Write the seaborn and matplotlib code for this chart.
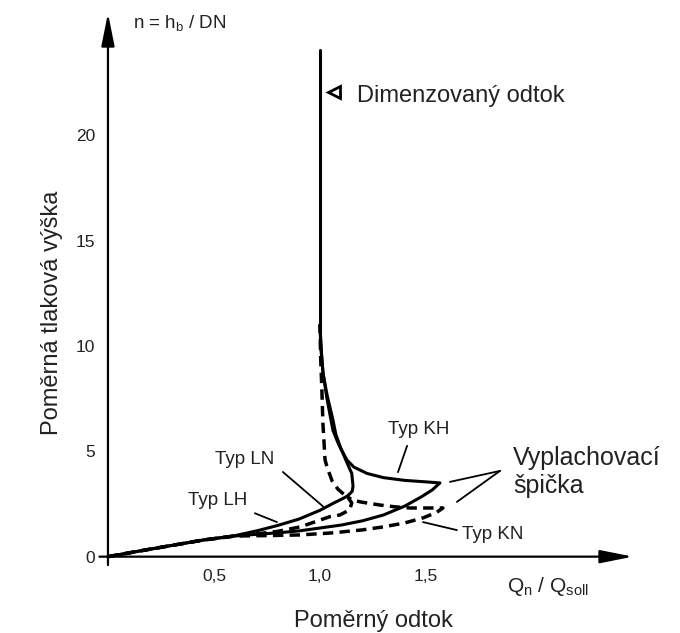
import matplotlib
matplotlib.use("Agg")
import matplotlib.pyplot as plt
import seaborn as sns
import pandas as pd

# ---------------- data ----------------
trunk_x = [1.0, 1.0]
trunk_y = [24.05, 10.0]

lh_x = [0.0, 0.15, 0.30, 0.45, 0.60, 0.70, 0.80, 0.90, 1.00, 1.06, 1.10, 1.13, 1.152, 1.156, 1.15, 1.13, 1.108, 1.085, 1.061, 1.033, 1.015, 1.005, 1.0]
lh_y = [0.0, 0.27, 0.53, 0.79, 1.00, 1.22, 1.48, 1.78, 2.20, 2.52, 2.72, 2.88, 3.10, 3.35, 3.95, 4.40, 4.92, 5.40, 6.00, 7.50, 8.70, 9.80, 11.0]

kh_x = [0.0, 0.15, 0.30, 0.45, 0.60, 0.70, 0.80, 0.90, 1.00, 1.10, 1.20, 1.30, 1.40, 1.48, 1.53, 1.566,
        1.50, 1.40, 1.30, 1.222, 1.16, 1.127, 1.10, 1.075, 1.061, 1.035, 1.014, 1.005, 1.0]
kh_y = [0.0, 0.27, 0.53, 0.79, 0.98, 1.06, 1.13, 1.22, 1.36, 1.50, 1.70, 1.98, 2.40, 2.85, 3.17, 3.50,
        3.55, 3.62, 3.75, 3.95, 4.25, 4.59, 5.10, 5.80, 6.50, 7.60, 8.70, 10.0, 11.0]

ln_x = [0.0, 0.15, 0.30, 0.45, 0.60, 0.70, 0.80, 0.906, 0.976, 1.047, 1.094, 1.14, 1.15, 1.13, 1.108, 1.085, 1.057, 1.033, 1.024, 1.014, 1.009, 1.003, 1.0]
ln_y = [0.0, 0.27, 0.53, 0.79, 0.98, 1.08, 1.20, 1.41, 1.65, 1.90, 1.98, 2.22, 2.55, 2.84, 3.00, 3.20, 3.60, 4.26, 4.60, 6.30, 7.90, 9.50, 11.0]

# KN: lower branch, peak, upper branch back to where it joins the LN trunk
kn_x = [0.0, 0.15, 0.30, 0.45, 0.60, 0.75, 0.906, 1.06, 1.20, 1.297, 1.40, 1.486, 1.55, 1.58,
        1.50, 1.425, 1.35, 1.283, 1.22, 1.19, 1.15, 1.13]
kn_y = [0.0, 0.27, 0.53, 0.79, 0.98, 1.00, 1.03, 1.13, 1.27, 1.41, 1.60, 1.84, 2.10, 2.31,
        2.31, 2.31, 2.37, 2.45, 2.55, 2.60, 2.70, 2.84]

x_ticks = [0.5, 1.0, 1.5]
x_tick_labels = ["0,5", "1,0", "1,5"]
y_ticks = [0, 5, 10, 15, 20]
y_tick_labels = ["0", "5", "10", "15", "20"]

# label texts, anchor points and pointer lines (data coordinates)
type_labels = ["Typ KH", "Typ LN", "Typ LH", "Typ KN"]
type_label_x = [1.321, 0.505, 0.377, 1.670]
type_label_y = [5.82, 4.40, 2.45, 0.84]
pointer_start = [(1.411, 5.26), (0.825, 4.02), (0.693, 2.06), (1.486, 1.64)]
pointer_end = [(1.368, 4.01), (1.015, 2.38), (0.797, 1.64), (1.646, 1.26)]

peak_text = ["Vyplachovací", "špička"]
peak_pointer_start = [(1.613, 3.55), (1.646, 2.60)]
peak_pointer_end = (1.849, 4.07)

# ---------------- styling ----------------
sns.set_style("white")
plt.rcParams["font.family"] = ["Liberation Sans", "DejaVu Sans"]
plt.rcParams["mathtext.fontset"] = "custom"
plt.rcParams["mathtext.rm"] = "Liberation Sans"
plt.rcParams["mathtext.it"] = "Liberation Sans"

fig = plt.figure(figsize=(6.8, 6.33), dpi=100)
ax = fig.add_axes([0.1463, 0.1073, 0.7919, 0.8886])
ax.set_xlim(-0.04, 2.5)
ax.set_ylim(-0.4, 26.3)

dash = (0, (3.0, 1.8))

def draw(xs, ys, ls, lw):
    df = pd.DataFrame({"x": xs, "y": ys})
    sns.lineplot(data=df, x="x", y="y", sort=False, estimator=None, ax=ax,
                 color="black", lw=lw, linestyle=ls, solid_joinstyle="round",
                 solid_capstyle="round", dash_capstyle="butt")

draw(trunk_x, trunk_y, "-", 2.2)
draw(lh_x, lh_y, "-", 2.2)
draw(kh_x, kh_y, "-", 2.2)
draw(ln_x, ln_y, dash, 2.5)
draw(kn_x, kn_y, dash, 2.5)

# axes with arrows
for s in ["top", "right"]:
    ax.spines[s].set_visible(False)
ax.spines["left"].set_position(("data", 0))
ax.spines["bottom"].set_position(("data", 0))
ax.spines["left"].set_color("none")
ax.spines["bottom"].set_color("none")
arrow_kw = dict(arrowstyle="-|>,head_length=2.0,head_width=0.4", color="black",
                lw=1.6, shrinkA=0, shrinkB=0, mutation_scale=10)
ax.annotate("", xy=(2.476, 0), xytext=(-0.04, 0), arrowprops=arrow_kw, annotation_clip=False)
ax.annotate("", xy=(0, 25.8), xytext=(0, -0.4), arrowprops=arrow_kw, annotation_clip=False)

ax.set_xticks(x_ticks)
ax.set_xticklabels(x_tick_labels)
ax.set_yticks(y_ticks)
ax.set_yticklabels(y_tick_labels)
ax.tick_params(axis="both", direction="out", length=5, width=1.4, labelsize=12.5, pad=4,
               color="black", labelcolor="#222222")
ax.set_xlabel("")
ax.set_ylabel("")

# design point marker + text
ax.plot([1.066], [22.05], marker="<", markersize=8, mfc="white", mec="black", mew=2.0, ls="none")
ax.text(1.175, 21.6, "Dimenzovaný odtok", fontsize=17, va="baseline", ha="left", color="#222222")

# type labels
for t, tx, ty, p0, p1 in zip(type_labels, type_label_x, type_label_y, pointer_start, pointer_end):
    ax.text(tx, ty, t, fontsize=13.5, va="baseline", ha="left", color="#222222")
    ax.plot([p0[0], p1[0]], [p0[1], p1[1]], color="black", lw=1.3)

ax.text(1.910, 4.35, peak_text[0], fontsize=18, va="baseline", ha="left", color="#222222")
ax.text(1.910, 3.02, peak_text[1], fontsize=18, va="baseline", ha="left", color="#222222")
for p0 in peak_pointer_start:
    ax.plot([p0[0], peak_pointer_end[0]], [p0[1], peak_pointer_end[1]], color="black", lw=1.3)

# axis symbols
ax.text(0.118, 25.09, r"n = h$_\mathrm{b}$ / DN", fontsize=13.5, va="baseline", ha="left", color="#222222")
ax.text(1.882, -1.68, r"Q$_\mathrm{n}$ / Q$_\mathrm{soll}$", fontsize=15, va="baseline", ha="left",
        color="#222222", clip_on=False)

# axis titles
fig.text(0.077, 0.506, "Poměrná tlaková výška", rotation=90, ha="center", va="center",
         fontsize=17, color="#222222")
fig.text(0.549, 0.010, "Poměrný odtok", ha="center", va="baseline", fontsize=17, color="#222222")

fig.savefig("out.png", dpi=100)
